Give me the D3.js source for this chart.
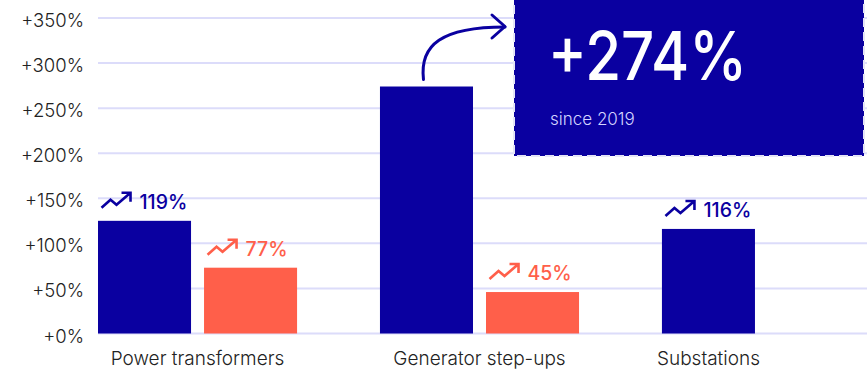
<!DOCTYPE html>
<html>
<head>
<meta charset="utf-8">
<script src="https://cdn.jsdelivr.net/npm/d3@7"></script>
<style>
  body { margin: 0; background: #fff; }
  svg { display: block; font-family: Inter, "Noto Sans", sans-serif; }
</style>
</head>
<body>
<div id="chart"></div>
<script>
// data
const categories = ["Power transformers", "Generator step-ups", "Substations"];
const seriesNames = ["Series A", "Series B"];
const seriesA = [125, 274, 116];
const seriesB = [73, 46, null];
const labelsA = ["119%", null, "116%"];
const labelsB = ["77%", "45%", null];
const yTicks = [0, 50, 100, 150, 200, 250, 300, 350];
const calloutValue = "+274%";
const calloutNote = "since 2019";

const width = 867, height = 371;
const blue = "#0a00a0", orange = "#ff5f4a";

const svg = d3.select("#chart").append("svg")
    .attr("width", width)
    .attr("height", height);

const y = d3.scaleLinear().domain([0, 350]).range([333.5, 18]);

const x0 = d3.scaleBand()
    .domain(categories)
    .range([98, 861])
    .paddingInner(0.294)
    .paddingOuter(0);

const x1 = d3.scaleBand()
    .domain(seriesNames)
    .range([0, x0.bandwidth()])
    .paddingInner(0.1226);

// gridlines
svg.append("g")
    .selectAll("line")
    .data(yTicks)
    .join("line")
    .attr("x1", 98)
    .attr("x2", width)
    .attr("y1", d => y(d))
    .attr("y2", d => y(d))
    .attr("stroke", "#dcdcfa")
    .attr("stroke-width", 2);

// y tick labels
svg.append("g")
    .selectAll("text")
    .data(yTicks)
    .join("text")
    .attr("x", 84)
    .attr("y", d => y(d) + 9)
    .attr("text-anchor", "end")
    .attr("font-size", 18.5)
    .attr("font-weight", 300)
    .attr("fill", "#222")
    .text(d => "+" + d + "%");

const rows = [];
categories.forEach((c, i) => {
    rows.push({ cat: c, series: seriesNames[0], value: seriesA[i], label: labelsA[i], color: blue });
    if (seriesB[i] != null) {
        rows.push({ cat: c, series: seriesNames[1], value: seriesB[i], label: labelsB[i], color: orange });
    }
});

svg.append("g")
    .selectAll("rect")
    .data(rows)
    .join("rect")
    .attr("x", d => x0(d.cat) + x1(d.series))
    .attr("y", d => y(d.value))
    .attr("width", x1.bandwidth())
    .attr("height", d => y(0) - y(d.value))
    .attr("fill", d => d.color);

// value labels with trend icon
const lab = svg.append("g")
    .selectAll("g")
    .data(rows.filter(d => d.label))
    .join("g")
    .attr("transform", d => {
        const cx = x0(d.cat) + x1(d.series) + x1.bandwidth() / 2;
        return `translate(${cx},${y(d.value) - 12})`;
    });

lab.append("path")
    .attr("d", "M-43,-1 L-34,-9 L-28,-4 L-14,-16 M-23,-16 L-14,-16 L-14,-7")
    .attr("fill", "none")
    .attr("stroke", d => d.color)
    .attr("stroke-width", 2.6);

lab.append("text")
    .attr("x", -5)
    .attr("y", 0)
    .attr("font-size", 19.5)
    .attr("font-weight", 500)
    .attr("fill", d => d.color)
    .text(d => d.label);

// category labels, centred under the bars that exist
svg.append("g")
    .selectAll("text")
    .data(categories)
    .join("text")
    .attr("x", (c, i) => {
        const n = seriesB[i] != null ? 2 : 1;
        return n === 2 ? x0(c) + x0.bandwidth() / 2 : x0(c) + x1(seriesNames[0]) + x1.bandwidth() / 2;
    })
    .attr("y", 365)
    .attr("text-anchor", "middle")
    .attr("font-size", 19)
    .attr("font-weight", 300)
    .attr("fill", "#222")
    .text(c => c);

// callout
const gx = x0(categories[1]) + x1(seriesNames[0]) + x1.bandwidth() / 2;
svg.append("path")
    .attr("d", `M${gx - 3},${y(seriesA[1]) - 7} C${gx - 7},45 ${gx + 15},27 505,27`)
    .attr("fill", "none")
    .attr("stroke", blue)
    .attr("stroke-width", 3)
    .attr("stroke-linecap", "round");
svg.append("path")
    .attr("d", "M492,15 L505,26.5 L492,38")
    .attr("fill", "none")
    .attr("stroke", blue)
    .attr("stroke-width", 3)
    .attr("stroke-linecap", "round")
    .attr("stroke-linejoin", "round");

svg.append("rect")
    .attr("x", 514)
    .attr("y", -10)
    .attr("width", 350)
    .attr("height", 166)
    .attr("fill", blue)
    .attr("stroke", "#e4e4f6")
    .attr("stroke-width", 2)
    .attr("stroke-dasharray", "9,5");

svg.append("text")
    .attr("x", 548)
    .attr("y", 80)
    .attr("font-size", 68)
    .attr("font-weight", 500)
    .attr("textLength", 199)
    .attr("lengthAdjust", "spacingAndGlyphs")
    .attr("fill", "#fff")
    .text(calloutValue);

svg.append("text")
    .attr("x", 550)
    .attr("y", 125)
    .attr("font-size", 17)
    .attr("font-weight", 300)
    .attr("fill", "#d4d4ff")
    .text(calloutNote);
</script>
</body>
</html>
